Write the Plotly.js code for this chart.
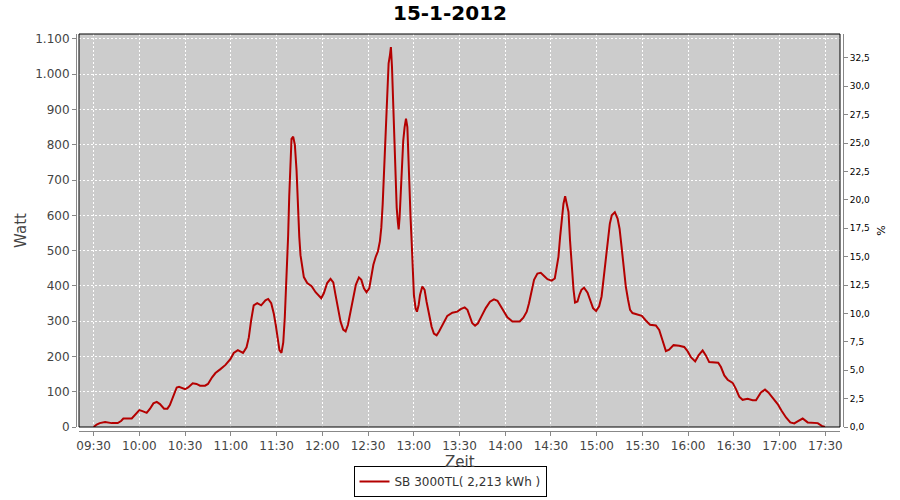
<!DOCTYPE html>
<html>
<head>
<meta charset="utf-8">
<script src="https://cdn.plot.ly/plotly-3.0.1.min.js"></script>
<style>html,body{margin:0;padding:0;background:#fff;}#chart{width:900px;height:500px;}</style>
</head>
<body>
<div id="chart"></div>
<script>
// Minutes after 09:30 on 15-1-2012
const offsetMin = [0,2,4,7.5,11.8,15.8,18,19.5,25,27,30,32,34.8,37,39.2,41.4,43.5,46.2,48.4,50,52.3,54.5,56,58.5,60,62,65,67.5,69.8,73.1,75,
77.7,79.9,83.2,86.5,89.8,91.9,94.6,98,100.3,101.8,103.3,105,107.3,109.9,112.7,114.5,116.5,118.2,119.5,120.8,121.9,123.2,124.4,125.4,126.3,127,127.6,128.3,128.7,129.4,129.8,130.9,132,133.1,134,134.9,135.7,136.8,137.9,140.1,143,145.6,147.8,149.3,
151,153.2,155.4,157.2,158.7,160.2,162,163.7,165.3,166.8,168.5,170.3,172,174,175.6,177.3,179,180.8,182.1,183.5,185,186.5,187.8,188.7,189.6,190.4,191.5,192.6,193.5,194.4,195,195.7,196.6,197,197.9,198.8,199.6,200.1,200.7,201.6,202.2,203.1,204,204.9,205.8,206.4,207.3,207.9,208.6,209.3,210.1,211.2,212.1,213.2,214.1,215.6,217.1,218.4,220,221.7,223.2,225,226.5,228.1,
229.8,232,235.3,238.6,240.8,243.4,245.2,246.9,248.4,250.2,252.1,254.3,257.2,260,262.6,264.9,267,269.2,271.4,274.7,279.5,281.9,284.1,285.6,287.2,288.9,291.1,293.3,295.5,297.7,300.5,302.5,303.8,304.9,306,307.1,308.2,309.3,
311.5,312.5,313.7,314.8,315.8,317.4,318.7,320,321.7,324,325.7,327.6,329.6,331.6,333.2,334.5,335.5,337.1,338.6,339.9,341.9,343.7,345,346.3,347.6,349.1,350.6,351.9,353.5,356.8,359.6,362.2,365,368.8,371,
373.2,375.4,377.5,380.4,384.1,387.4,389.6,391.8,394.6,396.8,399.5,401.6,403.8,407.1,409.7,411.5,413.7,415.9,419.2,421.3,423.5,425.7,429,432.3,434.5,437.7,440.4,442.6,445.5,448.7,451.3,454.2,457,459.6,461.8,465.1,468.4,471.7,475,477.6,479.8];
const watt = [0,7,11,14,11,11,17,24,24,33,48,45,40,52,67,71,65,52,52,62,90,112,114,110,107,112,124,122,117,117,122,
141,153,164,176,193,210,218,210,226,254,302,345,351,345,359,363,351,321,288,254,218,210,240,311,401,463,543,653,710,766,817,823,800,728,619,539,487,454,425,408,399,382,370,365,
379,408,420,410,374,336,298,276,271,289,327,370,403,424,417,393,382,393,427,460,482,498,527,565,631,717,841,936,1031,1055,1077,1022,908,803,698,622,579,560,593,679,746,812,850,874,850,760,689,593,527,450,374,336,327,346,374,398,389,355,317,284,265,260,270,284,
299,315,324,327,334,339,332,313,294,287,294,313,337,355,362,358,343,327,311,299,299,310,327,351,384,417,435,437,428,419,415,421,454,482,539,595,633,654,
609,529,445,389,353,356,375,389,395,381,360,337,329,342,370,417,464,520,576,600,609,591,562,511,454,398,360,332,323,318,315,302,290,288,275,
245,215,219,232,230,227,215,198,186,203,217,203,184,182,182,170,146,134,125,108,86,77,80,76,76,98,106,98,82,65,46,27,13,10,16,24,13,11,11,3,0];
const seriesName = "SB 3000TL( 2,213 kWh )";
const chartTitle = "15-1-2012";
const xTitle = "Zeit";

const t0 = Date.UTC(2012, 0, 15, 9, 30);
const xs = offsetMin.map(m => t0 + m * 60000);

const font = "DejaVu Sans, Verdana, sans-serif";
const traces = [
  {x: xs, y: watt, type: "scatter", mode: "lines", name: seriesName,
   line: {color: "#b40000", width: 2}, hoverinfo: "skip"},
  {x: [], y: [], type: "scatter", mode: "lines", yaxis: "y2", showlegend: false, hoverinfo: "skip"}
];

const W = 767, H = 397;
const layout = {
  width: 900, height: 500,
  paper_bgcolor: "#ffffff", plot_bgcolor: "#cccccc",
  separators: ",.",
  font: {family: font, size: 12, color: "#444444"},
  margin: {l: 76, r: 57, t: 34, b: 69, pad: 0},
  title: {text: "<b>" + chartTitle + "</b>", font: {family: font, size: 20, color: "#000000"},
          x: 0.5, xref: "container", xanchor: "center", y: 0.974, yref: "container", yanchor: "middle"},
  showlegend: true,
  legend: {orientation: "h", x: 0.5, xref: "container", xanchor: "center",
           y: 0.006, yref: "container", yanchor: "bottom",
           bgcolor: "#ffffff", bordercolor: "#000000", borderwidth: 1,
           font: {family: font, size: 12, color: "#333333"}},
  xaxis: {type: "date", domain: [3 / W, 764 / W], anchor: "free", position: 0,
          range: [t0 - 9.6 * 60000, t0 + 489.6 * 60000],
          tick0: t0, dtick: 1800000, tickformat: "%H:%M",
          showgrid: true, gridcolor: "#ffffff", griddash: "2px,2px", gridwidth: 1,
          showline: true, linecolor: "#888888", linewidth: 1,
          ticks: "outside", ticklen: 4, tickcolor: "#888888",
          tickfont: {family: font, size: 12, color: "#444444"},
          zeroline: false},
  yaxis: {domain: [4 / H, 1], anchor: "free", position: 0,
          range: [0, 1114], dtick: 100, tick0: 0, tickformat: ",d",
          showgrid: true, gridcolor: "#ffffff", griddash: "2px,2px", gridwidth: 1,
          showline: true, linecolor: "#888888", linewidth: 1,
          ticks: "outside", ticklen: 4, tickcolor: "#888888",
          tickfont: {family: font, size: 12, color: "#444444"},
          zeroline: false,
          title: {text: "Watt", font: {family: font, size: 15, color: "#444444"}, standoff: 3}},
  yaxis2: {overlaying: "y", side: "right", anchor: "free", position: 1,
           range: [0, 34.6], dtick: 2.5, tick0: 0, tickformat: ".1f",
           showgrid: false, zeroline: false,
           showline: true, linecolor: "#888888", linewidth: 1,
           ticks: "outside", ticklen: 4, tickcolor: "#888888",
           tickfont: {family: font, size: 9, color: "#000000"},
           title: {text: "%", font: {family: font, size: 11, color: "#000000"}, standoff: 8}},
  annotations: [{text: xTitle, xref: "x domain", x: 0.5, xanchor: "center",
                 yref: "paper", y: -31 / H, yanchor: "middle", showarrow: false,
                 font: {family: font, size: 15, color: "#444444"}}],
  shapes: [{type: "rect", xref: "x domain", yref: "y domain", x0: 0, x1: 1, y0: 0, y1: 1,
            line: {color: "#000000", width: 1}, layer: "above"}]
};

Plotly.newPlot("chart", traces, layout, {staticPlot: true, displayModeBar: false});
</script>
</body>
</html>
